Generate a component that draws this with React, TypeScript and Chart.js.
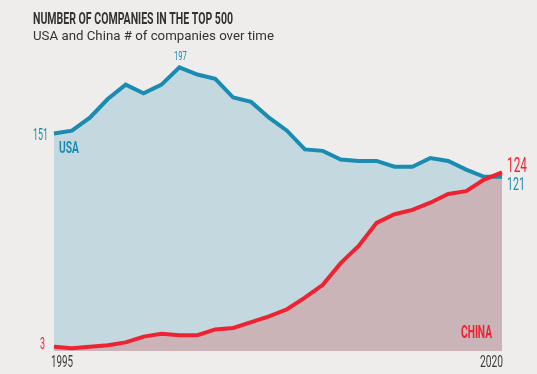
import React, { useEffect, useRef } from "react";
import { Chart, registerables } from "chart.js";

Chart.register(...registerables);

const years = [
  "1995", "1996", "1997", "1998", "1999", "2000", "2001", "2002", "2003", "2004",
  "2005", "2006", "2007", "2008", "2009", "2010", "2011", "2012", "2013", "2014",
  "2015", "2016", "2017", "2018", "2019", "2020",
];
const usaValues = [
  151, 153, 162, 175, 185, 179, 185, 197, 192, 189, 176, 173, 162, 153, 140, 139,
  133, 132, 132, 128, 128, 134, 132, 126, 121, 121,
];
const chinaValues = [
  3, 2, 3, 4, 6, 10, 12, 11, 11, 15, 16, 20, 24, 29, 37, 46, 61, 73, 89, 95, 98,
  103, 109, 111, 119, 124,
];
const titleText = "NUMBER OF COMPANIES IN THE TOP 500";
const subtitleText = "USA and China # of companies over time";
const usaLabel = "USA";
const chinaLabel = "CHINA";

const BG = "#eeedeb";
const BLUE = "#1b8cb1";
const BLUE_FILL = "#c3d9df";
const RED = "#ee2230";
const RED_FILL = "#cab4b8";
const GREY = "#3a3a3a";

function fitText(
  ctx: CanvasRenderingContext2D,
  text: string,
  x: number,
  baseline: number,
  font: string,
  color: string,
  align: "left" | "right" | "center",
  width: number
) {
  ctx.save();
  ctx.font = font;
  ctx.fillStyle = color;
  ctx.textAlign = "left";
  ctx.textBaseline = "alphabetic";
  const natural = ctx.measureText(text).width;
  const sx = width / natural;
  let left = x;
  if (align === "right") left = x - width;
  else if (align === "center") left = x - width / 2;
  ctx.translate(left, baseline);
  ctx.scale(sx, 1);
  ctx.fillText(text, 0, 0);
  ctx.restore();
}

const decorPlugin = {
  id: "decor",
  beforeDraw(chart: any) {
    const ctx = chart.ctx as CanvasRenderingContext2D;
    ctx.save();
    ctx.fillStyle = BG;
    ctx.fillRect(0, 0, chart.width, chart.height);
    ctx.restore();
  },
  afterDraw(chart: any) {
    const ctx = chart.ctx as CanvasRenderingContext2D;
    const xs = chart.scales.x;
    const ys = chart.scales.y;
    const n = years.length - 1;
    const x0 = xs.getPixelForValue(0);
    const xN = xs.getPixelForValue(n);
    const peakIdx = usaValues.indexOf(Math.max(...usaValues));
    const F = "Roboto, 'DejaVu Sans', sans-serif";

    fitText(ctx, titleText, 33, 24, `bold 16px ${F}`, "#333333", "left", 200);
    fitText(ctx, subtitleText, 33, 39.5, `13px ${F}`, "#333333", "left", 241);

    fitText(ctx, String(usaValues[0]), x0 - 6, ys.getPixelForValue(usaValues[0]) + 6, `16px ${F}`, BLUE, "right", 15);
    fitText(ctx, String(usaValues[peakIdx]), xs.getPixelForValue(peakIdx) + 1, ys.getPixelForValue(usaValues[peakIdx]) - 7, `13px ${F}`, BLUE, "center", 13);
    fitText(ctx, usaLabel, x0 + 5, ys.getPixelForValue(usaValues[0]) + 19, `bold 17px ${F}`, BLUE, "left", 20);

    fitText(ctx, String(chinaValues[n]), xN + 5, ys.getPixelForValue(chinaValues[n]), `21px ${F}`, RED, "left", 20);
    fitText(ctx, String(usaValues[n]), xN + 5, ys.getPixelForValue(usaValues[n]) + 13.5, `19px ${F}`, BLUE, "left", 18);
    fitText(ctx, String(chinaValues[0]), x0 - 9, ys.getPixelForValue(chinaValues[0]) + 2, `16px ${F}`, RED, "right", 5);
    fitText(ctx, chinaLabel, xN - 10, ys.getPixelForValue(0) - 13, `bold 19px ${F}`, RED, "right", 31);

    fitText(ctx, years[0], x0 - 3, ys.getPixelForValue(0) + 16, `16px ${F}`, GREY, "left", 22);
    fitText(ctx, years[n], xN + 1, ys.getPixelForValue(0) + 16, `16px ${F}`, GREY, "right", 23);
  },
};

export default function App() {
  const ref = useRef<HTMLCanvasElement | null>(null);
  useEffect(() => {
    document.body.style.margin = "0";
    document.body.style.background = BG;
    if (!ref.current) return;
    const chart = new Chart(ref.current, {
      type: "line",
      data: {
        labels: years,
        datasets: [
          {
            label: "China",
            data: chinaValues,
            borderColor: RED,
            backgroundColor: RED_FILL,
            fill: "origin",
            borderWidth: 4,
            pointRadius: 0,
            tension: 0,
          },
          {
            label: "USA",
            data: usaValues,
            borderColor: BLUE,
            backgroundColor: BLUE_FILL,
            fill: "origin",
            borderWidth: 4,
            pointRadius: 0,
            tension: 0,
          },
        ],
      },
      options: {
        responsive: false,
        animation: false,
        layout: { padding: { left: 54, right: 35, top: 63, bottom: 23 } },
        scales: {
          x: { display: false, offset: false },
          y: { display: false, min: 0, max: 200 },
        },
        plugins: {
          legend: { display: false },
          tooltip: { enabled: false },
          title: { display: false },
          filler: { drawTime: "beforeDatasetsDraw" },
        } as any,
      },
      plugins: [decorPlugin],
    });
    return () => chart.destroy();
  }, []);
  return (
    <div style={{ position: "absolute", left: 0, top: 0, width: 537, height: 374, background: BG }}>
      <canvas ref={ref} width={537} height={374} style={{ display: "block", width: 537, height: 374 }} />
    </div>
  );
}
